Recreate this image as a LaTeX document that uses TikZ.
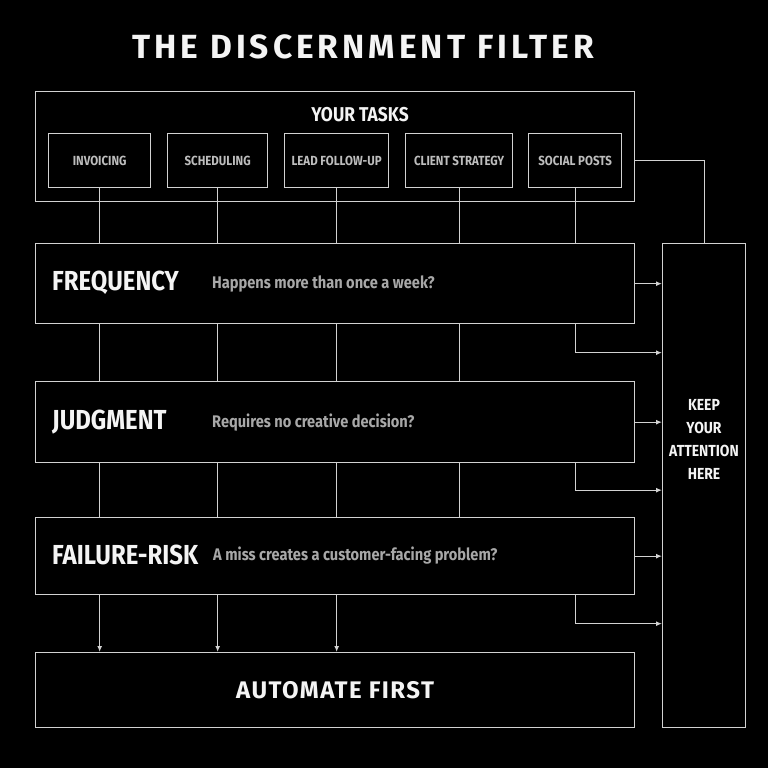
\documentclass[tikz,border=0pt]{standalone}
\usepackage{fontspec}
\setmainfont{Fira Sans}[FakeStretch=0.87]
\newfontfamily\headfont{Fira Sans}[LetterSpace=12]
\newfontfamily\bandfont{Fira Sans}[LetterSpace=6]
\usepackage{xcolor}
\definecolor{vizBack}{HTML}{000000}
\definecolor{vizLine}{HTML}{D2D2D2}
\definecolor{vizText}{HTML}{F4F4F4}
\definecolor{vizMuted}{HTML}{A8A8A8}
\definecolor{vizTask}{HTML}{BDBDBD}
\usetikzlibrary{arrows.meta,calc}

\tikzset{
  vizBox/.style={draw=vizLine, line width=1.3pt, inner sep=0pt, anchor=north west},
  taskBox/.style={vizBox, minimum height=54pt, text=vizTask,
    font=\fontsize{13.2}{15}\selectfont\bfseries},
  stageName/.style={anchor=west, inner sep=0pt, text=vizText,
    font=\fontsize{27.5}{30}\selectfont\bfseries},
  stageText/.style={anchor=west, inner sep=0pt, text=vizMuted,
    font=\fontsize{16.8}{19}\selectfont\bfseries},
  vizLink/.style={draw=vizLine, line width=1.3pt},
  vizArrow/.style={vizLink, -{Latex[length=6pt,width=5pt]}}
}

\begin{document}
\begin{tikzpicture}[x=1pt,y=-1pt]
  \fill[vizBack] (0,0) rectangle (768,768);
  \useasboundingbox (0,0) rectangle (768,768);

  \node[text=vizText, font=\fontsize{33.5}{36}\headfont\bfseries] (title) at (363,47) {THE DISCERNMENT FILTER};

  \node[vizBox, minimum width=599pt, minimum height=110pt] (tasks) at (35,91) {};
  \node[text=vizText, font=\fontsize{20}{22}\selectfont\bfseries] (tasksTitle) at (360,115) {YOUR TASKS};
  \node[taskBox, minimum width=102pt] (inv) at (48,133) {INVOICING};
  \node[taskBox, minimum width=100pt] (sched) at (167,133) {SCHEDULING};
  \node[taskBox, minimum width=104pt] (lead) at (284,133) {LEAD FOLLOW-UP};
  \node[taskBox, minimum width=107pt] (client) at (405,133) {CLIENT STRATEGY};
  \node[taskBox, minimum width=93pt] (post) at (528,133) {SOCIAL POSTS};

  \node[vizBox, minimum width=599pt, minimum height=80pt] (freq) at (35,243) {};
  \node[stageName] (freqName) at (52,283) {FREQUENCY};
  \node[stageText] (freqText) at (212,284) {Happens more than once a week?};

  \node[vizBox, minimum width=599pt, minimum height=81pt] (judg) at (35,381) {};
  \node[stageName] (judgName) at (52,422) {JUDGMENT};
  \node[stageText] (judgText) at (212,423) {Requires no creative decision?};

  \node[vizBox, minimum width=599pt, minimum height=77pt] (fail) at (35,517) {};
  \node[stageName] (failName) at (52,555) {FAILURE-RISK};
  \node[stageText] (failText) at (213,556) {A miss creates a customer-facing problem?};

  \node[vizBox, minimum width=599pt, minimum height=75pt] (auto) at (35,652) {};
  \node[text=vizText, font=\fontsize{24}{26}\bandfont\bfseries] (autoName) at (auto.center) {AUTOMATE FIRST};

  \node[vizBox, minimum width=83pt, minimum height=484pt] (keep) at (662,243) {};
  \node[text=vizText, align=center, font=\fontsize{16}{23}\selectfont\bfseries] (keepText) at (704,439) {KEEP\\YOUR\\ATTENTION\\HERE};

  \coordinate (gapA) at ($(freq.south)!0.5!(judg.north)$);
  \coordinate (gapB) at ($(judg.south)!0.5!(fail.north)$);
  \coordinate (gapC) at ($(fail.south)!0.5!(auto.north)$);

  \foreach \t in {inv,sched,lead,client,post}
    \draw[vizLink] (\t.south) -- (\t.south |- freq.north);
  \foreach \t in {inv,sched,lead,client} {
    \draw[vizLink] (\t.south |- freq.south) -- (\t.south |- judg.north);
    \draw[vizLink] (\t.south |- judg.south) -- (\t.south |- fail.north);
  }
  \foreach \t in {inv,sched,lead}
    \draw[vizArrow] (\t.south |- fail.south) -- (\t.south |- auto.north);

  \draw[vizLink] (post -| tasks.east) -| (keep.north);
  \foreach \s/\g in {freq/gapA,judg/gapB,fail/gapC} {
    \draw[vizArrow] (\s.east) -- (\s.east -| keep.west);
    \draw[vizArrow] (post.south |- \s.south) |- (\g -| keep.west);
  }
\end{tikzpicture}
\end{document}
